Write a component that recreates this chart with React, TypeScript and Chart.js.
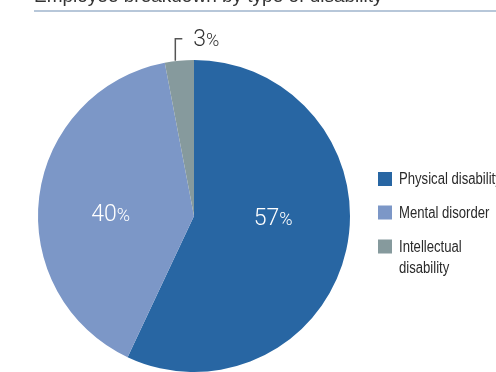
import React, { useEffect, useRef } from "react";
import { Chart, registerables } from "chart.js";

Chart.register(...registerables);

const titleText = "Employee breakdown by type of disability";
const categories = ["Physical disability", "Mental disorder", "Intellectual disability"];
const legendLines = [["Physical disability"], ["Mental disorder"], ["Intellectual", "disability"]];
const shares = [57, 40, 3];
const sliceColors = ["#2866a3", "#7c97c7", "#869a9d"];
// label placement style: inside (white) or outside callout, with nudges relative to arc centre
const labelInside = [true, true, false];
const labelNudge = [[3, -8], [-6, 15], [0, 0]];

const numFont = "300 23px Roboto, 'Liberation Sans', sans-serif";
const pctFont = "300 18px Roboto, 'Liberation Sans', sans-serif";
const legendFont = "16px 'Liberation Sans', Arial, sans-serif";
const legendSquash = 0.82;

function drawPct(ctx: CanvasRenderingContext2D, value: number, x: number, baseline: number, color: string, align: "center" | "left") {
  const num = String(value);
  ctx.font = numFont;
  const w1 = ctx.measureText(num).width;
  ctx.font = pctFont;
  const w2 = ctx.measureText("%").width;
  const total = w1 + w2;
  const x0 = align === "center" ? x - total / 2 : x;
  ctx.fillStyle = color;
  ctx.textAlign = "left";
  ctx.textBaseline = "alphabetic";
  ctx.font = numFont;
  ctx.fillText(num, x0, baseline);
  ctx.font = pctFont;
  ctx.fillText("%", x0 + w1, baseline);
}

const decorPlugin = {
  id: "decor",
  afterDraw(chart: any) {
    const ctx: CanvasRenderingContext2D = chart.ctx;
    const w = chart.width;
    ctx.save();
    // title (cut at top)
    ctx.font = "19px 'Liberation Sans', Arial, sans-serif";
    ctx.fillStyle = "#333333";
    ctx.textAlign = "left";
    ctx.textBaseline = "alphabetic";
    ctx.fillText(titleText, 34, 2);
    // rule
    ctx.strokeStyle = "#9fb5cc";
    ctx.lineWidth = 1.5;
    ctx.beginPath();
    ctx.moveTo(34, 11);
    ctx.lineTo(w, 11);
    ctx.stroke();

    // slice labels
    const meta = chart.getDatasetMeta(0);
    meta.data.forEach((arc: any, i: number) => {
      const props = arc.getProps(["x", "y", "startAngle", "endAngle", "outerRadius"], true);
      const mid = (props.startAngle + props.endAngle) / 2;
      if (labelInside[i]) {
        const r = props.outerRadius * 0.5;
        const cx = props.x + Math.cos(mid) * r + labelNudge[i][0];
        const cy = props.y + Math.sin(mid) * r + labelNudge[i][1];
        drawPct(ctx, shares[i], cx, cy, "#ffffff", "center");
      } else {
        const ex = props.x + Math.cos(mid) * props.outerRadius - 4;
        const ey = props.y + Math.sin(mid) * props.outerRadius;
        ctx.strokeStyle = "#555555";
        ctx.lineWidth = 1.5;
        ctx.beginPath();
        ctx.moveTo(ex, ey);
        ctx.lineTo(ex, ey - 22);
        ctx.lineTo(ex + 7, ey - 22);
        ctx.stroke();
        drawPct(ctx, shares[i], ex + 18, ey - 15, "#333333", "left");
      }
    });

    // legend
    const lx = 378;
    const rowCenters = [179, 212.5, 246.5];
    legendLines.forEach((lines, i) => {
      const cy = rowCenters[i];
      ctx.fillStyle = sliceColors[i];
      ctx.fillRect(lx, cy - 7, 14, 14);
      ctx.fillStyle = "#2a2a2a";
      ctx.font = legendFont;
      ctx.textAlign = "left";
      ctx.textBaseline = "middle";
      lines.forEach((t, j) => {
        ctx.save();
        ctx.translate(lx + 21, cy + 1 + j * 21);
        ctx.scale(legendSquash, 1);
        ctx.fillText(t, 0, 0);
        ctx.restore();
      });
    });
    ctx.restore();
  },
};

export default function App() {
  const ref = useRef<HTMLCanvasElement>(null);
  useEffect(() => {
    if (!ref.current) return;
    const chart = new Chart(ref.current, {
      type: "pie",
      data: {
        labels: categories,
        datasets: [
          {
            data: shares,
            backgroundColor: sliceColors,
            borderWidth: 0,
            hoverOffset: 0,
          },
        ],
      },
      options: {
        animation: false,
        responsive: false,
        layout: { padding: { left: 38, top: 60, right: 146, bottom: 0 } },
        plugins: {
          legend: { display: false },
          tooltip: { enabled: false },
          title: { display: false },
        },
      },
      plugins: [decorPlugin],
    });
    return () => chart.destroy();
  }, []);
  return (
    <div style={{ position: "fixed", left: 0, top: 0, width: 496, height: 372, background: "#fff" }}>
      <canvas ref={ref} width={496} height={372} style={{ display: "block", width: 496, height: 372 }} />
    </div>
  );
}
